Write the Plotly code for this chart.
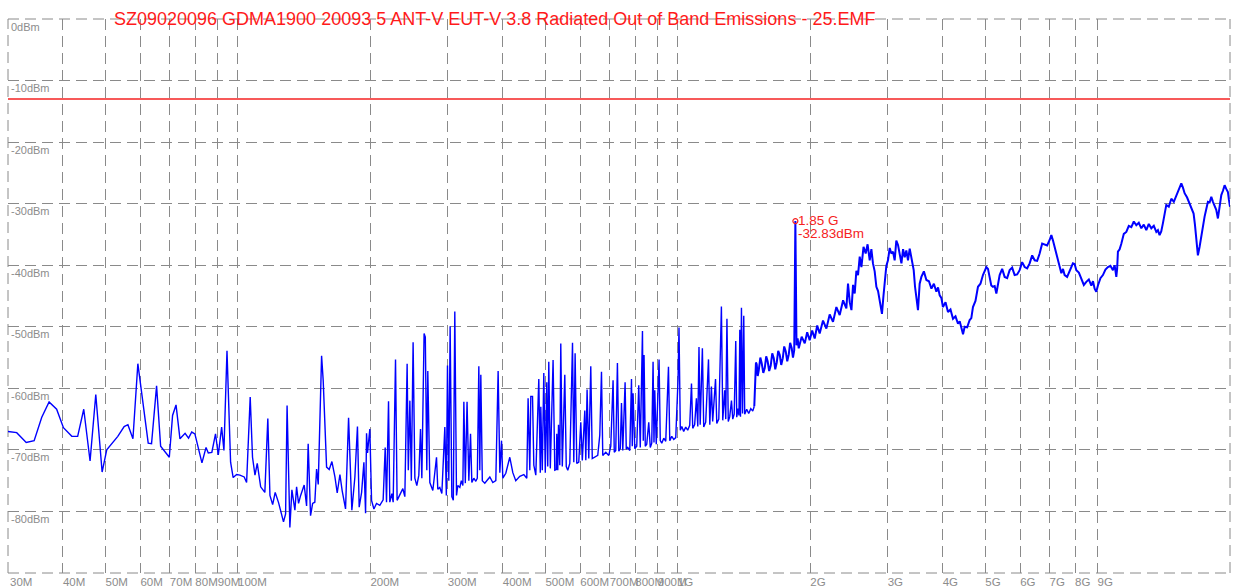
import math
import plotly.graph_objects as go

# ---------------- data (frequency in MHz, level in dBm) ----------------
low_freq_mhz = [30.0, 31.4, 33.0, 34.4, 35.8, 37.2, 38.7, 40.1, 41.9, 43.2, 44.6, 46.1, 47.5, 49.1,
                50.3, 53.3, 55.1, 56.2, 57.7, 59.2, 62.5, 63.6, 65.3, 66.7, 69.8, 71.0, 72.3, 73.8,
                75.8, 77.2, 78.5, 79.8, 82.8, 84.6, 85.6, 87.2, 88.9, 90.2, 91.8, 92.9, 94.4, 96.2,
                97.5, 99.3]
low_level_dbm = [-67.0, -67.2, -68.8, -68.5, -64.7, -62.2, -63.4, -66.4, -67.8, -67.8, -63.4, -71.8,
                 -61.0, -73.6, -70.0, -67.8, -66.2, -65.9, -68.2, -56.0, -68.9, -69.0, -59.6, -69.4,
                 -71.2, -64.4, -62.7, -68.2, -67.3, -68.1, -67.1, -67.4, -72.1, -69.6, -70.5, -70.4,
                 -67.4, -70.8, -66.3, -70.1, -53.9, -72.0, -74.5, -74.0]

mid_freq_mhz = [101.0, 103.3, 104.6, 106.6, 107.9, 109.3, 110.6, 112.6, 115.1, 116.9, 118.2, 119.9,
                121.5, 123.7, 126.9, 128.3, 129.3, 131.2, 132.6, 134.7, 135.9, 137.3, 138.8, 141.4,
                143.2, 144.4, 146.2, 147.8, 149.5, 150.9, 152.2, 154.9, 156.2, 159.0, 161.2, 163.5,
                166.1, 168.1, 170.5, 172.5, 175.6, 178.4, 181.5, 184.4, 186.9, 188.6, 191.0, 193.3,
                195.0, 196.0, 197.0, 199.4, 201.2, 203.7, 206.5, 210.1, 213.8, 216.1, 217.6, 219.9,
                221.4, 223.8, 225.3, 228.1, 230.0, 232.5, 234.6, 237.0, 239.5, 242.4, 243.9, 245.9,
                247.8, 250.1, 252.4, 255.0, 257.7, 260.0, 261.8, 264.9, 266.6, 268.7, 270.1, 273.0,
                277.3, 282.7, 284.6, 287.6, 290.7, 295.3, 297.6, 299.4, 301.5, 303.6, 306.3, 308.7,
                311.1, 313.9, 316.0, 319.4, 321.9, 324.5, 326.2, 328.7, 331.7, 334.8, 337.8, 340.1,
                343.7, 347.3, 350.0, 352.8, 354.6, 356.5, 359.3, 364.0, 369.7, 373.7, 379.6, 385.6,
                390.3, 393.8, 397.3, 400.0, 406.3, 414.9, 421.5, 428.1, 437.2, 446.5, 453.5, 456.6,
                460.7, 463.1, 467.3, 470.5, 475.4, 482.9, 486.7, 488.0, 491.8, 495.7, 499.6, 503.5,
                506.1, 508.8, 512.9, 520.4, 525.1, 529.2, 530.6, 533.3, 535.4, 539.0, 541.8, 546.1,
                553.3, 557.6, 562.0, 568.0, 576.1, 580.0, 584.0, 589.1, 595.3, 601.6, 606.4, 614.4,
                617.6, 621.8, 627.3, 633.9, 638.9, 647.4, 657.5, 664.5, 670.5, 675.0, 685.7, 696.5,
                703.9, 712.4, 716.9, 722.5, 728.8, 734.0, 739.8, 744.5, 749.5, 758.7, 763.3, 769.2,
                777.5, 784.5, 787.7, 791.0, 798.1, 806.4, 814.9, 821.4, 830.9, 834.4, 837.8, 843.2,
                849.7, 858.7, 865.6, 872.3, 878.3, 882.5, 886.2, 893.1, 906.3, 912.1, 919.2, 928.9,
                938.6, 952.1, 958.5, 968.6, 978.8, 989.1, 1001, 1006, 1013, 1021, 1031, 1042, 1053,
                1064, 1074, 1081, 1092, 1102, 1110, 1117, 1124, 1137, 1145, 1157, 1174, 1182, 1192,
                1200, 1218, 1226, 1239, 1256, 1265, 1278, 1285, 1293, 1302, 1312, 1324, 1333, 1343,
                1354, 1361, 1370, 1377, 1383, 1388, 1395, 1403, 1412, 1419, 1434, 1449, 1465, 1480,
                1492]
mid_level_dbm = [-74.1, -74.4, -75.3, -61.4, -71.2, -74.1, -72.2, -76.0, -76.9, -64.9, -77.4, -78.9,
                 -76.9, -78.6, -81.7, -80.4, -62.8, -82.6, -76.5, -79.8, -76.0, -78.7, -77.4, -75.7,
                 -79.1, -69.0, -80.7, -78.7, -78.5, -73.1, -75.6, -54.7, -58.7, -72.8, -73.2, -71.9,
                 -74.4, -77.0, -74.0, -76.6, -79.6, -64.8, -79.8, -74.4, -66.2, -79.3, -76.9, -72.0,
                 -80.3, -67.3, -70.5, -66.6, -78.2, -79.6, -78.7, -79.0, -78.1, -69.6, -78.5, -62.1,
                 -78.5, -77.1, -78.5, -55.3, -78.2, -77.6, -76.9, -76.3, -77.6, -56.0, -73.3, -62.0,
                 -75.0, -52.5, -74.6, -75.8, -74.1, -66.6, -74.6, -51.1, -51.7, -73.3, -57.2, -75.3,
                 -76.6, -71.2, -76.4, -76.1, -77.1, -66.3, -77.4, -56.3, -75.0, -49.9, -77.6, -78.2,
                 -47.5, -77.4, -75.8, -76.1, -75.0, -75.8, -62.2, -75.4, -62.2, -75.0, -67.4, -75.3,
                 -74.6, -75.1, -74.6, -56.4, -73.3, -57.8, -75.0, -75.4, -74.8, -74.4, -75.3, -75.0,
                 -57.2, -73.7, -68.5, -74.6, -73.8, -71.2, -73.7, -75.0, -74.3, -74.0, -74.6, -61.6,
                 -73.3, -61.3, -61.3, -72.5, -74.1, -58.5, -73.7, -63.0, -73.3, -57.5, -73.7, -59.0,
                 -72.7, -55.7, -73.0, -55.4, -73.3, -73.2, -67.4, -73.3, -65.9, -72.5, -52.7, -72.7,
                 -57.8, -72.7, -73.3, -72.2, -52.6, -72.0, -54.3, -72.2, -72.0, -65.5, -71.7, -63.6,
                 -71.7, -60.2, -71.4, -56.4, -71.4, -71.1, -70.9, -67.6, -57.3, -70.9, -70.4, -70.9,
                 -69.4, -58.7, -70.4, -70.1, -55.9, -70.2, -69.8, -62.4, -70.1, -59.0, -69.9, -69.6,
                 -70.1, -58.5, -69.4, -60.8, -69.8, -69.4, -59.5, -69.6, -50.7, -68.5, -54.6, -69.4,
                 -69.1, -65.5, -69.6, -68.9, -55.7, -68.8, -60.3, -69.1, -55.3, -68.5, -68.9, -68.1,
                 -68.6, -56.5, -68.5, -67.8, -68.3, -68.0, -58.5, -50.1, -66.8, -66.2, -67.0, -66.3,
                 -66.8, -66.0, -59.2, -66.5, -65.9, -61.6, -66.2, -53.3, -65.9, -53.5, -66.3, -65.5,
                 -55.3, -65.9, -59.7, -65.4, -58.5, -65.7, -65.0, -46.7, -65.2, -60.3, -65.0, -48.7,
                 -65.4, -64.6, -62.0, -65.0, -64.2, -52.3, -64.7, -63.3, -64.4, -50.5, -64.6, -46.9,
                 -64.1, -48.2, -64.2, -63.4, -64.1, -63.3, -63.7, -62.9]

high_freq_mhz = [1498, 1505, 1511, 1519, 1527, 1540, 1551, 1564, 1576, 1588, 1600, 1613, 1626, 1639,
                 1652, 1665, 1678, 1691, 1705, 1718, 1732, 1745, 1759, 1773, 1787, 1800, 1815, 1827,
                 1839, 1850, 1861, 1872, 1883, 1912, 1943, 1968, 1994, 2020, 2047, 2074, 2101, 2138,
                 2176, 2214, 2253, 2293, 2333, 2375, 2416, 2437, 2459, 2481, 2502, 2524, 2546, 2568,
                 2591, 2614, 2643, 2673, 2700, 2730, 2754, 2777, 2802, 2827, 2852, 2877, 2894, 2911,
                 2932, 2953, 2978, 3004, 3031, 3058, 3084, 3111, 3138, 3166, 3194, 3223, 3251, 3279,
                 3307, 3336, 3366, 3396, 3417, 3437, 3461, 3486, 3500, 3515, 3546, 3578, 3625, 3673,
                 3722, 3771, 3820, 3870, 3904, 3938, 3972, 4006, 4060, 4113, 4167, 4222, 4278, 4334,
                 4373, 4412, 4450, 4488, 4547, 4607, 4647, 4687, 4749, 4812, 4875, 4939, 4983, 5028,
                 5071, 5115, 5159, 5204, 5251, 5298, 5344, 5390, 5461, 5533, 5606, 5680, 5755, 5830,
                 5907, 5985, 6064, 6144, 6225, 6306, 6390, 6474, 6559, 6645, 6733, 6821, 6911, 7002,
                 7065, 7126, 7188, 7250, 7313, 7379, 7445, 7509, 7574, 7674, 7775, 7842, 7910, 7980,
                 8052, 8159, 8266, 8375, 8484, 8597, 8710, 8786, 8862, 8939, 9016, 9135, 9255, 9378,
                 9501, 9626, 9752, 9839, 9927, 9969, 10011, 10100, 10190, 10324, 10460, 10598, 10738,
                 10879, 11022, 11167, 11314, 11463, 11614, 11767, 11923, 12080, 12238, 12344, 12451,
                 12559, 12668, 12781, 12895, 13066, 13239, 13413, 13589, 13769, 13950, 14071, 14193,
                 14380, 14568, 14722, 14877, 14982, 15088, 15150, 15216, 15352, 15489, 15623, 15758,
                 15895, 16034, 16177, 16322, 16463, 16605, 16750, 16896, 17047, 17199, 17348, 17498,
                 17650, 17803, 17900, 18000]
high_level_dbm = [-57.4, -55.8, -56.1, -58.0, -57.1, -55.0, -55.9, -57.5, -56.7, -54.8, -55.6, -57.2,
                  -56.3, -54.3, -55.1, -56.9, -55.8, -53.9, -54.6, -56.2, -55.1, -53.2, -54.0, -55.6,
                  -54.5, -52.6, -53.5, -55.0, -53.8, -32.83, -53.0, -51.9, -53.5, -51.6, -52.7, -50.9,
                  -52.2, -50.6, -51.9, -49.8, -51.1, -49.0, -50.3, -48.0, -49.2, -46.8, -48.1, -45.7,
                  -47.0, -43.0, -46.0, -47.3, -43.2, -44.6, -40.9, -41.6, -38.6, -40.3, -37.0, -38.1,
                  -36.6, -39.2, -37.4, -39.7, -41.0, -43.5, -44.2, -45.7, -46.3, -47.9, -45.2, -43.0,
                  -40.1, -39.2, -37.2, -38.1, -37.8, -39.2, -36.0, -36.7, -38.0, -39.7, -37.4, -38.7,
                  -37.6, -39.2, -37.3, -38.7, -39.5, -40.8, -43.5, -45.7, -46.0, -47.3, -43.0, -41.9,
                  -41.0, -42.4, -42.6, -43.8, -43.0, -44.3, -43.6, -44.9, -45.3, -46.8, -46.0, -47.6,
                  -47.2, -48.7, -48.3, -49.5, -49.1, -50.3, -51.2, -50.0, -50.1, -48.9, -48.6, -46.8,
                  -45.8, -43.5, -43.0, -41.6, -40.9, -40.3, -40.6, -41.9, -43.3, -43.5, -43.4, -44.6,
                  -42.9, -41.6, -40.6, -41.9, -42.1, -40.8, -40.4, -41.6, -41.5, -40.8, -39.5, -40.3,
                  -40.5, -39.7, -38.4, -39.2, -39.3, -38.1, -36.5, -36.7, -36.8, -35.9, -35.1, -36.0,
                  -37.0, -37.9, -39.2, -39.9, -41.3, -40.6, -41.6, -41.9, -40.8, -40.3, -39.7, -39.8,
                  -40.8, -41.2, -42.2, -43.2, -42.7, -42.3, -43.3, -42.6, -43.8, -44.3, -43.3, -42.1,
                  -41.6, -40.7, -40.3, -40.1, -40.8, -40.0, -41.9, -40.6, -37.8, -37.4, -36.5, -34.9,
                  -34.6, -33.6, -33.8, -32.9, -33.5, -33.1, -34.0, -33.4, -34.3, -33.3, -34.0, -33.6,
                  -34.6, -34.3, -35.1, -34.5, -33.2, -31.9, -30.2, -30.5, -29.2, -29.7, -28.6, -27.8,
                  -26.7, -27.4, -28.3, -29.0, -30.0, -30.5, -31.6, -33.4, -35.9, -37.0, -38.4, -37.0,
                  -35.4, -33.2, -32.1, -30.9, -29.7, -29.8, -28.9, -29.7, -30.5, -31.0, -32.4, -30.2,
                  -28.6, -27.9, -27.0, -27.6, -28.1, -29.4, -30.5]

limit_dbm = -13.0
marker_freq_mhz = 1850
marker_level_dbm = -32.83

x_tick_vals = [30, 40, 50, 60, 70, 80, 90, 100, 200, 300, 400, 500, 600, 700, 800, 900,
               1000, 2000, 3000, 4000, 5000, 6000, 7000, 8000, 9000]
x_tick_text = ["30M", "40M", "50M", "60M", "70M", "80M", "90M", "100M", "200M", "300M", "400M",
               "500M", "600M", "700M", "800M", "900M", "1G", "2G", "3G", "4G", "5G", "6G", "7G",
               "8G", "9G"]
y_tick_vals = [0, -10, -20, -30, -40, -50, -60, -70, -80, -90]
y_tick_text = ["0dBm", "-10dBm", "-20dBm", "-30dBm", "-40dBm", "-50dBm", "-60dBm", "-70dBm",
               "-80dBm", ""]

title_text = "SZ09020096 GDMA1900 20093 5 ANT-V EUT-V 3.8 Radiated Out of Band Emissions - 25.EMF"
x_min_mhz, x_max_mhz = 30, 18000

# ---------------- figure ----------------
FONT = "Liberation Sans, Arial, sans-serif"
BLUE = "#0000ff"
RED = "#f52222"
GRID = "#8a8a8a"
TICK_GREY = "#8c8c8c"
DASH = "11px,6px"

fig = go.Figure()
fig.add_trace(go.Scatter(x=low_freq_mhz + mid_freq_mhz, y=low_level_dbm + mid_level_dbm,
                         mode="lines", line=dict(color=BLUE, width=1.4), hoverinfo="skip"))
fig.add_trace(go.Scatter(x=[mid_freq_mhz[-1]] + high_freq_mhz, y=[mid_level_dbm[-1]] + high_level_dbm,
                         mode="lines", line=dict(color=BLUE, width=2.0), hoverinfo="skip"))
fig.add_trace(go.Scatter(x=[x_min_mhz, x_max_mhz], y=[limit_dbm, limit_dbm], mode="lines",
                         line=dict(color=RED, width=1.3), hoverinfo="skip"))
fig.add_trace(go.Scatter(x=[marker_freq_mhz], y=[marker_level_dbm], mode="markers",
                         marker=dict(symbol="circle-open", color=RED, size=5, line=dict(width=1.2)),
                         hoverinfo="skip"))

# annotations on a log axis take log10 positions
mx = math.log10(marker_freq_mhz)
fig.add_annotation(x=mx, y=marker_level_dbm, xref="x", yref="y",
                   text="%.2f G" % (marker_freq_mhz / 1000), showarrow=False,
                   xanchor="left", yanchor="middle", xshift=1, yshift=1,
                   font=dict(family=FONT, size=13.5, color=RED))
fig.add_annotation(x=mx, y=marker_level_dbm, xref="x", yref="y",
                   text="%.2fdBm" % marker_level_dbm, showarrow=False,
                   xanchor="left", yanchor="middle", xshift=1, yshift=-12,
                   font=dict(family=FONT, size=13.5, color=RED))

fig.add_annotation(x=0.0851, y=1, xref="paper", yref="paper", text=title_text, showarrow=False,
                   xanchor="left", yanchor="middle", yshift=0,
                   font=dict(family=FONT, size=18, color="#ff1a1a"))

# the first tick label (at the very edge of the range) is dropped by plotly; draw it at its tick
fig.add_annotation(x=math.log10(x_tick_vals[0]), y=0, xref="x", yref="paper", text=x_tick_text[0],
                   showarrow=False, xanchor="left", yanchor="top", xshift=0, yshift=-1,
                   font=dict(family=FONT, size=11.5, color=TICK_GREY))

# plot border drawn dashed like the grid
for (x0, x1, y0, y1) in [(0, 0, 0, 1), (1, 1, 0, 1), (0, 1, 0, 0), (0, 1, 1, 1)]:
    fig.add_shape(type="line", xref="paper", yref="paper", x0=x0, x1=x1, y0=y0, y1=y1,
                  line=dict(color=GRID, width=1, dash=DASH), layer="below")

fig.update_xaxes(type="log", range=[math.log10(x_min_mhz), math.log10(x_max_mhz)],
                 tickvals=x_tick_vals, ticktext=x_tick_text, tickangle=0, automargin=False,
                 showgrid=True, gridcolor=GRID, gridwidth=1, griddash=DASH,
                 zeroline=False, showline=False, ticks="", ticklabelposition="outside right",
                 tickfont=dict(family=FONT, size=11.5, color=TICK_GREY), fixedrange=True)
fig.update_yaxes(range=[-90, 0], tickvals=y_tick_vals, ticktext=y_tick_text, automargin=False,
                 showgrid=True, gridcolor=GRID, gridwidth=1, griddash=DASH,
                 zeroline=False, showline=False, ticks="", ticklabelposition="inside bottom",
                 tickfont=dict(family=FONT, size=11, color=TICK_GREY), fixedrange=True)

fig.update_layout(width=1237, height=588, margin=dict(l=8, r=7, t=19, b=15),
                  paper_bgcolor="white", plot_bgcolor="white", showlegend=False,
                  font=dict(family=FONT))

fig.write_html("out.html", config={"displayModeBar": False},
               post_script="document.body.style.margin='0';document.body.style.overflow='hidden';")
